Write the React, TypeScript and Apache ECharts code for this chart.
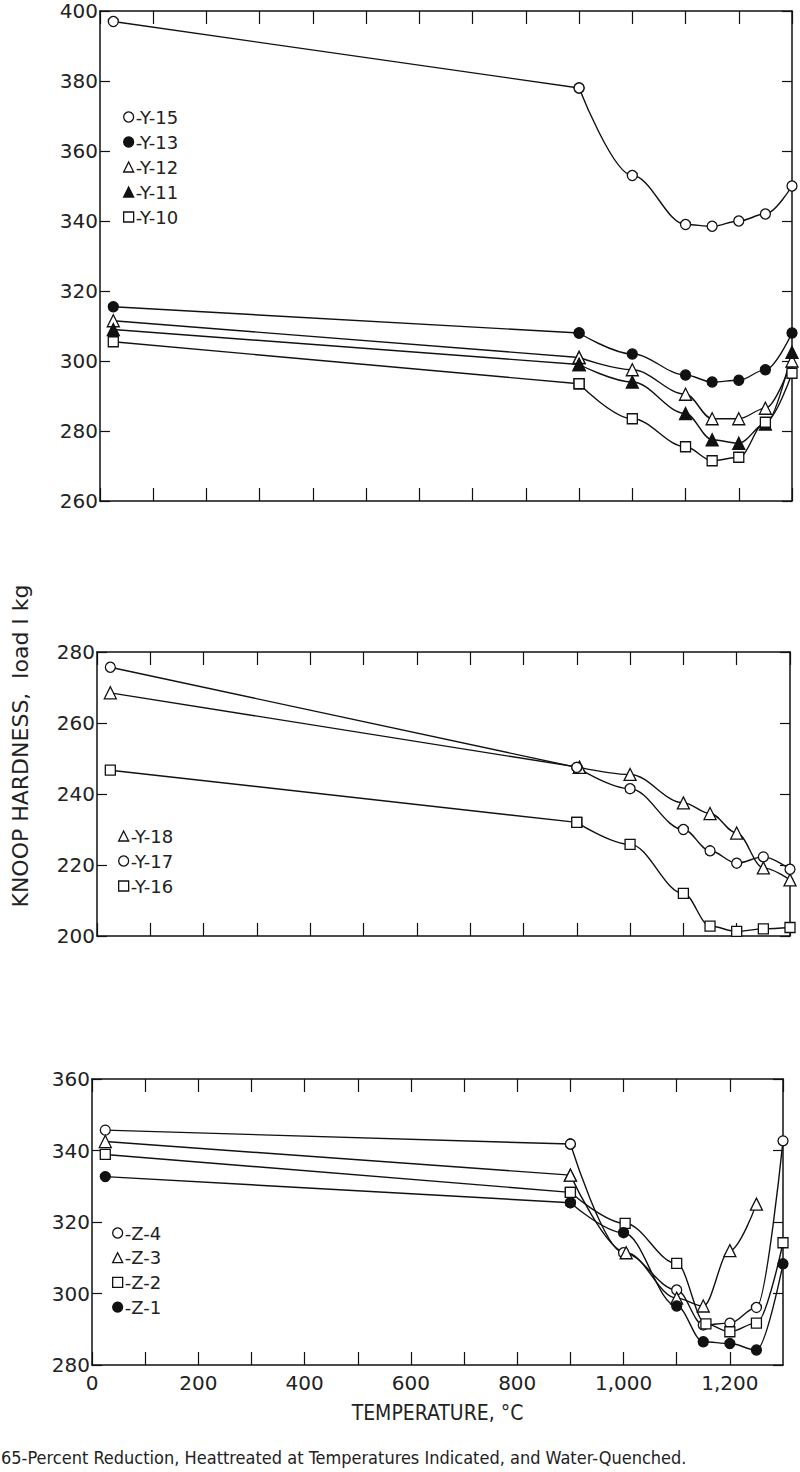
import React, { useEffect, useRef } from "react";
import * as echarts from "echarts";

// ---- Data (Knoop hardness vs. temperature) ----
const tempsStd = [25, 900, 1000, 1100, 1150, 1200, 1250, 1300];

// Panel 1
const y15 = [397, 378, 353, 339, 338.5, 340, 342, 350];
const y13 = [315.5, 308, 302, 296, 294, 294.5, 297.5, 308];
const y12 = [311.5, 301, 297.5, 290.5, 283.5, 283.5, 286.5, 300];
const y11 = [309, 299, 294, 285, 277.5, 276.5, 282, 302.5];
const y10 = [305.5, 293.5, 283.5, 275.5, 271.5, 272.5, 282.5, 296.5];

// Panel 2
const tempsY18 = [25, 905, 1000, 1100, 1150, 1200, 1250, 1300];
const y18 = [268.5, 247.5, 245.5, 237.5, 234.5, 229, 219.2, 215.8];
const y17 = [275.7, 247.5, 241.5, 230, 224, 220.5, 222.3, 218.8];
const y16 = [246.7, 232, 225.8, 212, 202.8, 201.3, 202, 202.4];

// Panel 3
const tempsZ3 = [25, 900, 1005, 1100, 1150, 1200, 1250];
const tempsZ2 = [25, 900, 1003, 1100, 1155, 1200, 1250, 1300];
const z4 = [345.7, 341.8, 311.4, 301, 291.2, 291.7, 296.1, 342.7];
const z3 = [342.5, 333.1, 311.4, 298.7, 296.5, 312, 325];
const z2 = [338.9, 328.3, 319.6, 308.4, 291.5, 289.3, 291.7, 314.2];
const z1 = [332.7, 325.4, 317, 296.5, 286.5, 286, 284.2, 308.3];

const yRanges = [
  [260, 400],
  [200, 280],
  [280, 360],
];
const xMin = 0;
const xMax = 1300;
const xTickStep = 100;
const xLabelStep = 200;

const INK = "#111";
const LABEL_INK = "#222";

type Mark = { shape: string; filled: boolean; size: number };
const markOpenCircle: Mark = { shape: "circle", filled: false, size: 10 };
const markFillCircle: Mark = { shape: "circle", filled: true, size: 10 };
const markOpenTri: Mark = { shape: "triangle", filled: false, size: 12 };
const markFillTri: Mark = { shape: "triangle", filled: true, size: 12 };
const markOpenRect: Mark = { shape: "rect", filled: false, size: 10 };

const seriesDefs = [
  { name: "Y-15", panel: 0, temps: tempsStd, vals: y15, mark: markOpenCircle },
  { name: "Y-13", panel: 0, temps: tempsStd, vals: y13, mark: markFillCircle },
  { name: "Y-12", panel: 0, temps: tempsStd, vals: y12, mark: markOpenTri },
  { name: "Y-11", panel: 0, temps: tempsStd, vals: y11, mark: markFillTri },
  { name: "Y-10", panel: 0, temps: tempsStd, vals: y10, mark: markOpenRect },
  { name: "Y-18", panel: 1, temps: tempsY18, vals: y18, mark: markOpenTri },
  { name: "Y-17", panel: 1, temps: tempsStd, vals: y17, mark: markOpenCircle },
  { name: "Y-16", panel: 1, temps: tempsStd, vals: y16, mark: markOpenRect },
  { name: "Z-4", panel: 2, temps: tempsStd, vals: z4, mark: markOpenCircle },
  { name: "Z-3", panel: 2, temps: tempsZ3, vals: z3, mark: markOpenTri },
  { name: "Z-2", panel: 2, temps: tempsZ2, vals: z2, mark: markOpenRect },
  { name: "Z-1", panel: 2, temps: tempsStd, vals: z1, mark: markFillCircle },
];

const legendOrder = [
  ["Y-15", "Y-13", "Y-12", "Y-11", "Y-10"],
  ["Y-18", "Y-17", "Y-16"],
  ["Z-4", "Z-3", "Z-2", "Z-1"],
];

const grids = [
  { left: 100, top: 11, width: 692, height: 490 },
  { left: 97, top: 652, width: 693, height: 284 },
  { left: 92, top: 1079, width: 691, height: 286 },
];

const legendPos = [
  { left: 123, top: 108, itemGap: 7 },
  { left: 118, top: 827, itemGap: 7 },
  { left: 112, top: 1224, itemGap: 6.7 },
];

function fmtTemp(v: number): string {
  if (v % xLabelStep !== 0) return "";
  return v >= 1000 ? `${Math.floor(v / 1000)},${String(v % 1000).padStart(3, "0")}` : String(v);
}

export default function App() {
  const ref = useRef<HTMLDivElement>(null);

  useEffect(() => {
    document.body.style.margin = "0";
    if (!ref.current) return;
    const chart = echarts.init(ref.current, undefined, { renderer: "svg" });

    const axisLineStyle = { color: INK, width: 1.5 };
    const xAxes: any[] = [];
    const yAxes: any[] = [];
    grids.forEach((_, i) => {
      const isLast = i === 2;
      xAxes.push({
        gridIndex: i,
        type: "value",
        position: "bottom",
        min: xMin,
        max: xMax,
        interval: xTickStep,
        axisLine: { show: true, onZero: false, lineStyle: axisLineStyle },
        axisTick: { show: true, inside: true, length: 13, lineStyle: { color: INK, width: 1.2 } },
        axisLabel: {
          show: isLast,
          formatter: fmtTemp,
          fontSize: 20,
          lineHeight: 20,
          fontFamily: "DejaVu Sans",
          color: LABEL_INK,
          margin: 8,
          showMinLabel: true,
          showMaxLabel: false,
        },
        splitLine: { show: false },
        name: isLast ? "TEMPERATURE, °C" : "",
        nameLocation: "middle",
        nameGap: 37,
        nameTextStyle: {
          fontSize: 21,
          fontFamily: "Liberation Sans Narrow, DejaVu Sans Condensed, Roboto, sans-serif",
          color: LABEL_INK,
        },
      });
      xAxes.push({
        gridIndex: i,
        type: "value",
        position: "top",
        min: xMin,
        max: xMax,
        interval: xTickStep,
        axisLine: { show: true, onZero: false, lineStyle: axisLineStyle },
        axisTick: { show: true, inside: true, length: 13, lineStyle: { color: INK, width: 1.2 } },
        axisLabel: { show: false },
        splitLine: { show: false },
      });
      yAxes.push({
        gridIndex: i,
        type: "value",
        position: "left",
        min: yRanges[i][0],
        max: yRanges[i][1],
        interval: 20,
        axisLine: { show: true, onZero: false, lineStyle: axisLineStyle },
        axisTick: { show: true, inside: true, length: 10, lineStyle: { color: INK, width: 1.2 } },
        axisLabel: {
          fontSize: 20,
          lineHeight: 18,
          fontFamily: "DejaVu Sans",
          color: LABEL_INK,
          margin: 2,
        },
        splitLine: { show: false },
      });
      yAxes.push({
        gridIndex: i,
        type: "value",
        position: "right",
        min: yRanges[i][0],
        max: yRanges[i][1],
        interval: 20,
        axisLine: { show: true, onZero: false, lineStyle: axisLineStyle },
        axisTick: { show: true, inside: true, length: 10, lineStyle: { color: INK, width: 1.2 } },
        axisLabel: { show: false },
        splitLine: { show: false },
      });
    });

    // Each sample: a straight run from room temperature to the first
    // heat-treatment point, then a smooth curve through the remaining points.
    const series: any[] = [];
    seriesDefs.forEach((d) => {
      const pts = d.temps.map((t, k) => [t, d.vals[k]]);
      const common = {
        name: d.name,
        type: "line",
        xAxisIndex: d.panel * 2,
        yAxisIndex: d.panel * 2,
        symbol: d.mark.shape,
        symbolSize: d.mark.size,
        lineStyle: { color: INK, width: 1.4 },
        itemStyle: {
          color: d.mark.filled ? INK : "#fff",
          borderColor: INK,
          borderWidth: 1.3,
        },
        z: 3,
      };
      series.push({ ...common, data: pts.slice(0, 2), smooth: false });
      series.push({ ...common, data: pts.slice(1), smooth: 0.35, smoothMonotone: "x" });
    });

    const legends = legendOrder.map((names, i) => ({
      orient: "vertical",
      left: legendPos[i].left,
      top: legendPos[i].top,
      padding: 0,
      itemWidth: 10,
      itemHeight: 10,
      itemGap: legendPos[i].itemGap,
      selectedMode: false,
      formatter: "-{name}",
      textStyle: {
        fontSize: 18,
        lineHeight: 14,
        fontFamily: "DejaVu Sans",
        color: LABEL_INK,
        padding: [0, 0, 0, -3],
      },
      data: names.map((n) => {
        const def = seriesDefs.find((s) => s.name === n)!;
        return {
          name: n,
          icon: def.mark.shape,
          itemStyle: {
            color: def.mark.filled ? INK : "#fff",
            borderColor: INK,
            borderWidth: 1.3,
          },
        };
      }),
    }));

    chart.setOption({
      animation: false,
      backgroundColor: "#fff",
      grid: grids.map((g) => ({ ...g, containLabel: false })),
      xAxis: xAxes,
      yAxis: yAxes,
      legend: legends,
      series,
      graphic: [
        {
          type: "text",
          x: 20,
          y: 746,
          rotation: Math.PI / 2,
          style: {
            text: "KNOOP HARDNESS,  load I kg",
            fontSize: 22,
            fontFamily: "DejaVu Sans",
            fill: LABEL_INK,
            align: "center",
            verticalAlign: "middle",
          },
        },
        {
          type: "text",
          x: 1,
          y: 1457,
          style: {
            text: "65-Percent Reduction, Heattreated at Temperatures Indicated, and Water-Quenched.",
            fontSize: 18,
            fontFamily: "Liberation Sans Narrow, DejaVu Sans Condensed, Roboto, sans-serif",
            fill: LABEL_INK,
            align: "left",
            verticalAlign: "middle",
          },
        },
      ],
    });

    return () => chart.dispose();
  }, []);

  return <div ref={ref} style={{ width: 800, height: 1472 }} />;
}
